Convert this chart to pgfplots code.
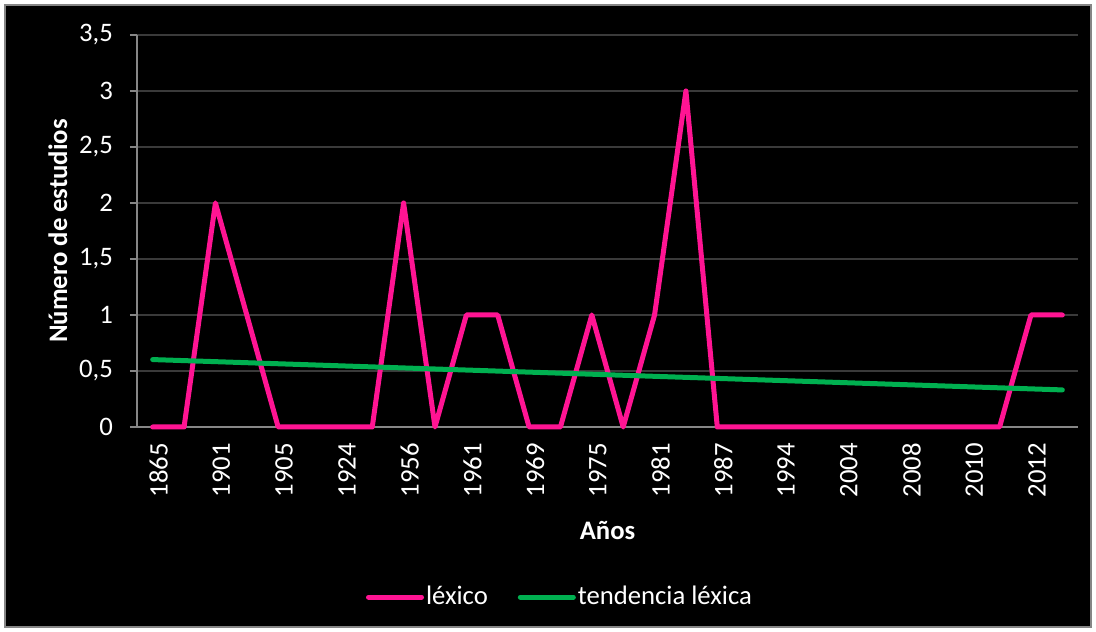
\documentclass[border=0pt]{standalone}
\usepackage{fontspec}
\setmainfont{Carlito}
\usepackage{pgfplots}
\pgfplotsset{compat=1.18}
\definecolor{pinkline}{HTML}{FF1493}
\definecolor{greenline}{HTML}{00B050}
\definecolor{gridc}{HTML}{3A3A3A}
\definecolor{axisc}{HTML}{868686}
\begin{document}
\fontsize{26.7bp}{32bp}\selectfont
\begin{tikzpicture}[x=1bp,y=1bp]
\fill[white] (0,0) rectangle (1096,632);
\draw[color=axisc, line width=1.5bp, fill=black] (5,5) rectangle (1091,627);
\begin{axis}[
  at={(137bp,205bp)}, anchor=south west,
  scale only axis, width=941bp, height=392bp,
  xmin=-0.5, xmax=29.5, ymin=0, ymax=3.5,
  clip=false,
  ytick={0,0.5,1,1.5,2,2.5,3,3.5},
  xtick={0,2,...,28},
  xticklabels={1865,1901,1905,1924,1956,1961,1969,1975,1981,1987,1994,2004,2008,2010,2012},
  /pgf/number format/.cd, use comma, assume math mode=true,
  /pgfplots/.cd,
  axis x line*=bottom, axis y line*=left,
  axis line style={axisc, line width=1.2bp, -},
  tick align=outside, major tick length=7bp,
  xtick style={draw=none},
  ytick style={axisc, line width=1.2bp},
  ymajorgrids, major grid style={gridc, line width=1.2bp},
  tick label style={white},
  xticklabel style={rotate=90, anchor=east, inner sep=0pt, xshift=-9bp, yshift=-6bp},
  yticklabel style={anchor=east, inner sep=0pt, xshift=-17bp},
  ylabel={Número de estudios},
  xlabel={Años},
  every axis y label/.style={at={(axis description cs:-0.084,0.5)}, rotate=90, anchor=center, font=\bfseries, white},
  every axis x label/.style={at={(axis description cs:0.5,-0.263)}, anchor=center, font=\bfseries, white},
  legend style={at={(axis description cs:0.4495,-0.434)}, anchor=center, draw=none, fill=none, text=white, inner sep=0pt},
  legend columns=2,
  legend cell align=left,
  /tikz/every even column/.append style={column sep=28bp},
  legend image code/.code={\draw[#1, line cap=round] (0bp,0bp) -- (53bp,0bp);},
]
\addplot[pinkline, line width=5bp, line join=round, line cap=round] coordinates {
(0,0) (1,0) (2,2) (3,1) (4,0) (5,0) (6,0) (7,0) (8,2) (9,0)
(10,1) (11,1) (12,0) (13,0) (14,1) (15,0) (16,1) (17,3) (18,0) (19,0)
(20,0) (21,0) (22,0) (23,0) (24,0) (25,0) (26,0) (27,0) (28,1) (29,1)
};
\addlegendentry{léxico}
\addplot[greenline, line width=5bp, line cap=round] coordinates {(0,0.602) (29,0.331)};
\addlegendentry{tendencia léxica}
\end{axis}
\end{tikzpicture}
\end{document}
